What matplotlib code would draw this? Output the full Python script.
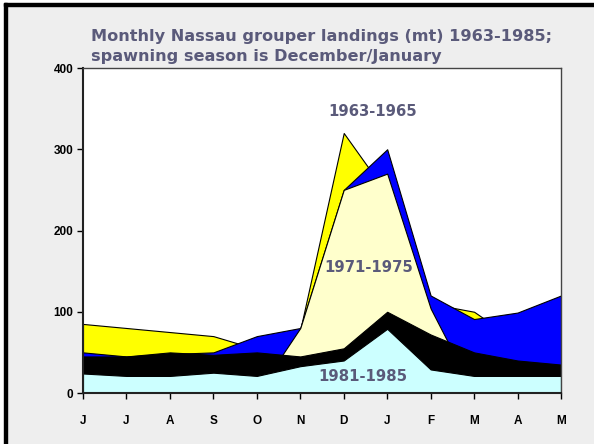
import matplotlib
matplotlib.use("Agg")
import matplotlib.pyplot as plt
from matplotlib.patches import Rectangle

months = ['J', 'J', 'A', 'S', 'O', 'N', 'D', 'J', 'F', 'M', 'A', 'M']
s1963_1965 = [85, 80, 75, 70, 54, 78, 320, 245, 110, 100, 63, 60]
s_blue = [50, 45, 48, 50, 70, 80, 250, 300, 120, 91, 99, 120]
s1971_1975 = [0, 0, 0, 0, 0, 80, 250, 270, 104, 0, 0, 0]
s_black = [45, 45, 50, 47, 50, 45, 55, 100, 72, 50, 40, 35]
s1981_1985 = [24, 21, 21, 25, 21, 33, 40, 79, 29, 21, 21, 21]
yticks = [0, 100, 200, 300, 400]

series = [
    (s1963_1965, '#ffff00'),
    (s_blue, '#0000ff'),
    (s1971_1975, '#ffffcc'),
    (s_black, '#000000'),
    (s1981_1985, '#ccffff'),
]

W, H = 594, 444
fig = plt.figure(figsize=(W / 100, H / 100), dpi=100)
fig.patch.set_facecolor('#eeeeee')

# frame: white outer margin with black line at left and top
fig.add_artist(Rectangle((0, 0), 4 / W, 1, transform=fig.transFigure, color='white', zorder=0))
fig.add_artist(Rectangle((0, 1 - 3 / H), 1, 3 / H, transform=fig.transFigure, color='white', zorder=0))
fig.add_artist(Rectangle((4 / W, 0), 3 / W, 1 - 3 / H, transform=fig.transFigure, color='black', zorder=1))
fig.add_artist(Rectangle((4 / W, 1 - 6 / H), 1 - 4 / W, 3 / H, transform=fig.transFigure, color='black', zorder=1))

ax = fig.add_axes([83 / W, 1 - 393 / H, (561 - 83) / W, (393 - 68) / H])
ax.set_facecolor('white')
x = list(range(len(months)))
for vals, col in series:
    ax.fill_between(x, 0, vals, facecolor=col, edgecolor='black', linewidth=0.8)

ax.set_xlim(0, len(months) - 1)
ax.set_ylim(0, 400)
ax.set_xticks(x)
ax.set_xticklabels(months)
ax.set_yticks(yticks)
ax.set_yticklabels([str(v) for v in yticks])
for lab in ax.get_xticklabels() + ax.get_yticklabels():
    lab.set_fontfamily('Liberation Sans')
    lab.set_fontweight('bold')
    lab.set_fontsize(8.5)
ax.tick_params(axis='x', length=4, width=1, pad=12, direction='out')
ax.tick_params(axis='y', length=4, width=1, pad=3, direction='out')
for side in ['top', 'right']:
    ax.spines[side].set_color('#444444')
    ax.spines[side].set_linewidth(1.0)
for side in ['left', 'bottom']:
    ax.spines[side].set_color('#222222')
    ax.spines[side].set_linewidth(1.5)

tcol = '#5a5a7a'
fig.text(91 / W, 1 - 36 / H, 'Monthly Nassau grouper landings (mt) 1963-1985;',
         color=tcol, fontsize=11.6, fontweight='bold', family='DejaVu Sans', va='center', ha='left')
fig.text(91 / W, 1 - 56 / H, 'spawning season is December/January',
         color=tcol, fontsize=11.6, fontweight='bold', family='DejaVu Sans', va='center', ha='left')

ax.text(6.67, 347, '1963-1965', color=tcol, fontsize=10.7, fontweight='bold', ha='center', va='center')
ax.text(6.58, 154, '1971-1975', color=tcol, fontsize=10.7, fontweight='bold', ha='center', va='center')
ax.text(6.44, 20, '1981-1985', color=tcol, fontsize=10.7, fontweight='bold', ha='center', va='center')

fig.savefig('out.png', dpi=100, facecolor=fig.get_facecolor())
